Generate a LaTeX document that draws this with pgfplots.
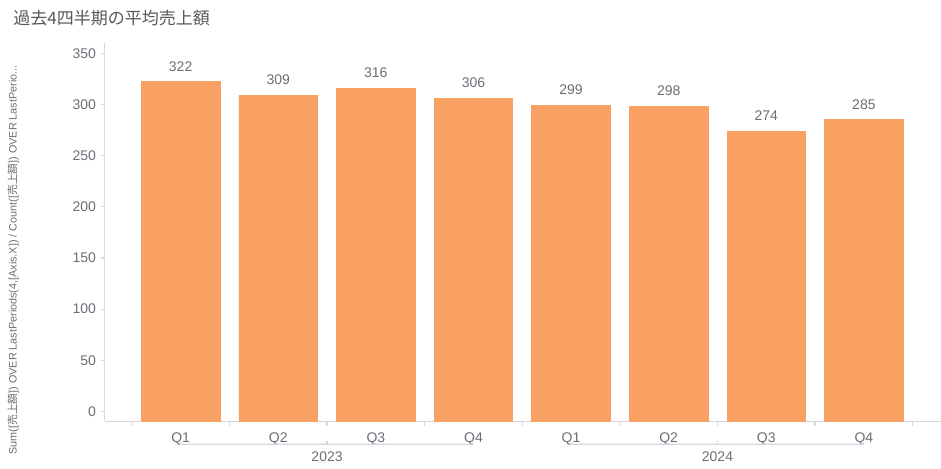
\documentclass[border=0pt]{standalone}
\usepackage{fontspec}
\setmainfont{Liberation Sans}
\newfontfamily\cjk{Noto Sans CJK JP}
\usepackage{pgfplots}
\usepackage{pgfplotstable}
\pgfplotsset{compat=1.18}
\definecolor{barc}{HTML}{F9A162}
\definecolor{axc}{HTML}{D5D8E0}
\definecolor{txt}{HTML}{6B6E76}
\definecolor{ttl}{HTML}{595959}

% x = quarter index, v = average sales, base = bottom of the bar (axis floor)
\pgfplotstableread{
x v   base
0 322 -9.8
1 309 -9.8
2 316 -9.8
3 306 -9.8
4 299 -9.8
5 298 -9.8
6 274 -9.8
7 285 -9.8
}\sales

\begin{document}
\begin{tikzpicture}
\useasboundingbox (0,0) rectangle (470.5pt,234.5pt);
\node[anchor=west, inner sep=0, text=ttl, font=\cjk\fontsize{8.5}{10}\selectfont]
  at (6.5pt,225.5pt) {過去4四半期の平均売上額};
\node[rotate=90, inner sep=0, text=txt, font=\fontsize{5.4}{6}\selectfont]
  at (6.6pt,104.5pt) {Sum([{\cjk 売上額}]) OVER LastPeriods(4,[Axis.X]) / Count([{\cjk 売上額}]) OVER LastPerio...};
\begin{axis}[
  at={(52.25pt,23.75pt)}, anchor=south west,
  scale only axis, width=418.25pt, height=189.25pt,
  xmin=-0.78, xmax=7.79, ymin=-9.8, ymax=360,
  axis lines*=left,
  axis line style={draw=axc, line width=0.6pt},
  tick align=outside, major tick length=2pt,
  ytick={0,50,...,350},
  ytick style={draw=axc, line width=0.6pt},
  yticklabel style={xshift=1.3pt},
  xtick={0,...,7},
  xticklabels={Q1,Q2,Q3,Q4,Q1,Q2,Q3,Q4},
  xtick style={draw=none},
  extra x ticks={-0.5,0.5,...,7.5},
  extra x tick labels={},
  extra x tick style={xtick style={draw=axc, line width=0.6pt}, major tick length=2.2pt},
  ticklabel style={font=\fontsize{7}{8}\selectfont, text=txt},
  /pgf/number format/assume math mode=true,
  clip=false,
]
\addplot[ybar, bar width=0.805, bar shift=0pt, fill=barc, draw=barc, line width=0.4pt, forget plot]
  table[x=x, y=base] {\sales};
\addplot[ybar, bar width=0.805, bar shift=0pt, fill=barc, draw=barc, line width=0.4pt,
  nodes near coords,
  every node near coord/.append style={anchor=south, inner sep=0, yshift=5pt,
    font=\fontsize{7}{8}\selectfont, text=txt}]
  table[x=x, y=v] {\sales};
% year groups
\draw[axc, line width=0.6pt, rounded corners=1pt]
  ([yshift=-10.4pt]axis cs:0,-9.8) -- ([yshift=-11.4pt]axis cs:0,-9.8)
  -- ([yshift=-11.4pt]axis cs:3,-9.8) -- ([yshift=-10.4pt]axis cs:3,-9.8);
\draw[axc, line width=0.6pt]
  ([yshift=-11.4pt]axis cs:1.5,-9.8) -- ([yshift=-9.9pt]axis cs:1.5,-9.8);
\draw[axc, line width=0.6pt, rounded corners=1pt]
  ([yshift=-10.4pt]axis cs:4,-9.8) -- ([yshift=-11.4pt]axis cs:4,-9.8)
  -- ([yshift=-11.4pt]axis cs:7,-9.8) -- ([yshift=-10.4pt]axis cs:7,-9.8);
\draw[axc, line width=0.6pt]
  ([yshift=-11.4pt]axis cs:5.5,-9.8) -- ([yshift=-9.9pt]axis cs:5.5,-9.8);
\node[inner sep=0, text=txt, font=\fontsize{7}{8}\selectfont]
  at ([yshift=-17.6pt]axis cs:1.5,-9.8) {2023};
\node[inner sep=0, text=txt, font=\fontsize{7}{8}\selectfont]
  at ([yshift=-17.6pt]axis cs:5.5,-9.8) {2024};
\end{axis}
\end{tikzpicture}
\end{document}
